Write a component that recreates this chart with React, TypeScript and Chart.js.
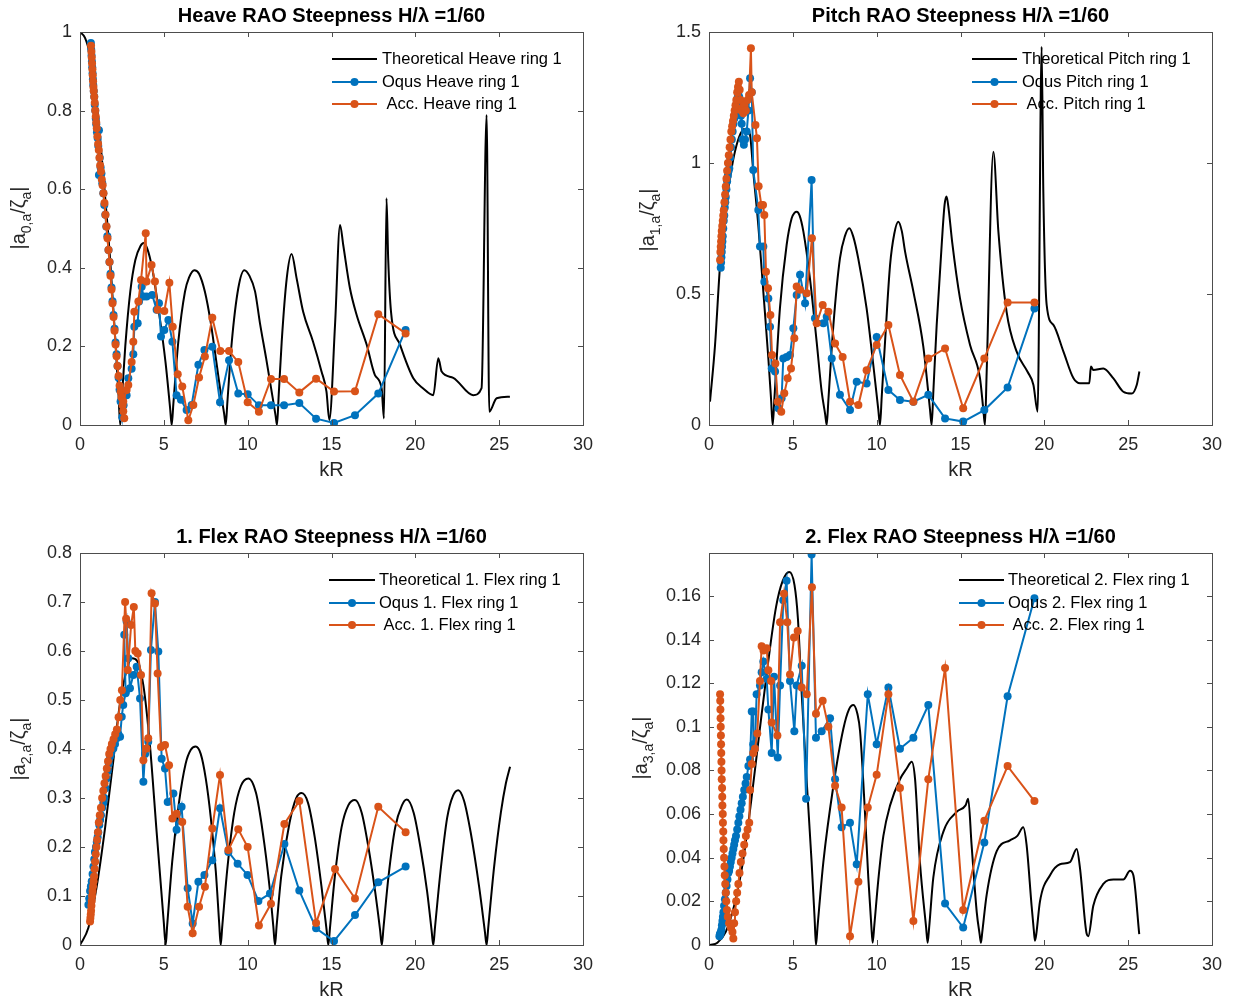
import React, { useEffect, useRef } from "react";
import { Chart, registerables } from "chart.js";

Chart.register(...registerables);

const FONT = "'Liberation Sans', Arial, Helvetica, sans-serif";
const BLUE = "#0072BD";
const ORANGE = "#D95319";
const AXIS_COLOR = "#4d4d4d";
const TEXT_COLOR = "#262626";

type Pair = [number, number];

// ---------- Heave ----------
const heaveTheory: Pair[] = [[0,1],[0.3,0.985],[0.6,0.94],[0.9,0.85],[1.2,0.73],[1.5,0.58],[1.8,0.42],[2.1,0.22],[2.3,0.075],[2.4,0],[2.5,0.07],[2.7,0.2],[3.0,0.34],[3.3,0.42],[3.6,0.455],[3.8,0.463],[4.0,0.45],[4.3,0.4],[4.7,0.29],[5.1,0.16],[5.37,0.045],[5.47,0],[5.57,0.055],[5.86,0.21],[6.26,0.339],[6.5,0.375],[6.82,0.394],[7.1,0.385],[7.45,0.339],[7.8,0.26],[8.05,0.186],[8.4,0.08],[8.6,0.028],[8.69,0],[8.79,0.058],[9.05,0.21],[9.44,0.348],[9.8,0.394],[10.1,0.38],[10.44,0.34],[10.73,0.26],[11.1,0.17],[11.45,0.08],[11.66,0.025],[11.75,0],[11.85,0.075],[12.03,0.212],[12.33,0.373],[12.62,0.435],[12.92,0.373],[13.31,0.288],[13.9,0.212],[14.4,0.137],[14.7,0.085],[14.87,0.013],[15.21,0.254],[15.51,0.509],[15.7,0.458],[16.1,0.348],[16.5,0.28],[17.1,0.204],[17.59,0.127],[17.99,0.093],[18.13,0.017],[18.28,0.577],[18.38,0.424],[18.55,0.288],[19.09,0.204],[19.88,0.119],[20.47,0.093],[21.07,0.076],[21.37,0.17],[21.57,0.136],[22.26,0.12],[23.45,0.076],[23.95,0.094],[24.25,0.789],[24.41,0.034],[24.85,0.068],[25.64,0.072]];
const heaveOqus: Pair[] = [[0.65,0.972],[0.67,0.955],[0.69,0.94],[0.71,0.925],[0.73,0.91],[0.75,0.895],[0.77,0.88],[0.79,0.865],[0.82,0.85],[0.85,0.835],[0.88,0.815],[0.91,0.8],[0.94,0.78],[0.97,0.765],[1.01,0.745],[1.05,0.73],[1.09,0.71],[1.13,0.75],[1.13,0.636],[1.18,0.68],[1.23,0.655],[1.28,0.64],[1.33,0.615],[1.39,0.59],[1.45,0.56],[1.51,0.535],[1.57,0.505],[1.63,0.48],[1.7,0.445],[1.76,0.415],[1.82,0.385],[1.88,0.35],[1.94,0.315],[2.0,0.28],[2.06,0.245],[2.12,0.21],[2.18,0.18],[2.24,0.15],[2.3,0.12],[2.36,0.09],[2.42,0.06],[2.52,0.02],[2.6,0.05],[2.78,0.076],[2.88,0.119],[3.08,0.143],[3.18,0.18],[3.24,0.25],[3.44,0.259],[3.52,0.314],[3.68,0.352],[3.78,0.327],[3.97,0.327],[4.31,0.331],[4.57,0.293],[4.71,0.31],[4.83,0.225],[5.03,0.242],[5.27,0.267],[5.51,0.212],[5.76,0.076],[6.02,0.064],[6.36,0.038],[6.66,0.051],[7.06,0.153],[7.42,0.191],[7.89,0.199],[8.35,0.058],[8.89,0.165],[9.44,0.08],[10.0,0.078],[10.67,0.05],[11.39,0.05],[12.17,0.05],[13.08,0.056],[14.08,0.016],[15.15,0.005],[16.4,0.025],[17.79,0.08],[19.42,0.242]];
const heaveAcc: Pair[] = [[0.66,0.965],[0.68,0.95],[0.7,0.935],[0.72,0.92],[0.74,0.905],[0.76,0.89],[0.78,0.875],[0.8,0.86],[0.82,0.85],[0.85,0.835],[0.88,0.82],[0.91,0.8],[0.94,0.785],[0.97,0.77],[1.0,0.755],[1.04,0.735],[1.08,0.715],[1.12,0.7],[1.16,0.68],[1.2,0.66],[1.25,0.645],[1.3,0.625],[1.35,0.61],[1.4,0.59],[1.46,0.565],[1.52,0.535],[1.58,0.505],[1.64,0.475],[1.7,0.445],[1.76,0.415],[1.82,0.38],[1.88,0.345],[1.94,0.31],[2.0,0.275],[2.06,0.24],[2.12,0.205],[2.18,0.175],[2.24,0.15],[2.3,0.125],[2.36,0.1],[2.42,0.085],[2.48,0.07],[2.54,0.05],[2.58,0.035],[2.64,0.017],[2.58,0.06],[2.78,0.089],[2.88,0.102],[3.08,0.16],[3.18,0.212],[3.24,0.288],[3.48,0.314],[3.64,0.369],[3.92,0.488],[3.97,0.365],[4.27,0.407],[4.47,0.365],[4.63,0.293],[5.03,0.29],[5.33,0.362],[5.53,0.25],[5.83,0.129],[6.1,0.098],[6.46,0.012],[6.76,0.051],[7.1,0.121],[7.45,0.174],[7.89,0.273],[8.37,0.188],[8.89,0.188],[9.44,0.16],[10.0,0.058],[10.67,0.034],[11.39,0.117],[12.17,0.117],[13.08,0.083],[14.08,0.118],[15.15,0.085],[16.4,0.086],[17.79,0.282],[19.42,0.233]];

// ---------- Pitch ----------
const pitchTheory: Pair[] = [[0.06,0.089],[0.36,0.305],[0.66,0.611],[0.9,0.78],[1.2,0.92],[1.5,1.03],[1.8,1.1],[2.1,1.13],[2.3,1.125],[2.45,1.107],[2.64,0.967],[2.94,0.763],[3.24,0.509],[3.54,0.254],[3.7,0.1],[3.8,0],[3.9,0.1],[4.23,0.445],[4.63,0.687],[4.93,0.789],[5.1,0.81],[5.23,0.814],[5.4,0.8],[5.63,0.738],[6.02,0.56],[6.42,0.318],[6.72,0.127],[6.93,0.04],[7.02,0],[7.12,0.095],[7.42,0.382],[7.81,0.636],[8.1,0.72],[8.37,0.751],[8.6,0.72],[8.9,0.636],[9.4,0.445],[9.8,0.229],[10.1,0.057],[10.2,0],[10.3,0.106],[10.5,0.318],[10.8,0.611],[11.05,0.73],[11.29,0.776],[11.5,0.74],[11.7,0.66],[12.19,0.509],[12.78,0.3],[13.18,0.06],[13.28,0],[13.38,0.127],[13.58,0.382],[13.88,0.69],[14.05,0.84],[14.17,0.872],[14.3,0.82],[14.5,0.7],[14.97,0.483],[15.57,0.305],[16.16,0.18],[16.36,0.06],[16.46,0],[16.56,0.2],[16.96,1.043],[17.26,0.738],[17.75,0.432],[18.35,0.28],[18.99,0.204],[19.35,0.153],[19.6,0.051],[19.84,1.444],[19.94,0.89],[20.14,0.458],[20.54,0.382],[21.14,0.28],[21.74,0.178],[22.13,0.159],[22.68,0.159],[22.78,0.223],[22.92,0.21],[23.52,0.216],[24.12,0.178],[24.71,0.127],[25.21,0.12],[25.51,0.153],[25.67,0.204]];
const pitchOqus: Pair[] = [[0.7,0.6],[0.72,0.62],[0.74,0.64],[0.76,0.66],[0.78,0.68],[0.8,0.7],[0.82,0.72],[0.85,0.75],[0.88,0.78],[0.91,0.8],[0.94,0.83],[0.97,0.85],[1.0,0.87],[1.04,0.9],[1.08,0.93],[1.12,0.95],[1.17,0.97],[1.21,0.98],[1.26,1.02],[1.31,1.06],[1.36,1.09],[1.41,1.12],[1.46,1.15],[1.51,1.17],[1.56,1.19],[1.61,1.21],[1.66,1.23],[1.71,1.25],[1.76,1.26],[1.81,1.25],[1.86,1.22],[1.91,1.18],[1.95,1.15],[2.0,1.09],[2.08,1.07],[2.15,1.09],[2.25,1.12],[2.35,1.2],[2.45,1.323],[2.55,1.27],[2.64,0.973],[2.94,0.821],[3.04,0.681],[3.24,0.681],[3.3,0.547],[3.54,0.483],[3.64,0.375],[3.74,0.216],[3.94,0.204],[4.14,0.064],[4.33,0.102],[4.43,0.254],[4.63,0.26],[4.83,0.267],[5.03,0.369],[5.23,0.496],[5.43,0.573],[5.73,0.465],[6.12,0.935],[6.32,0.407],[6.82,0.388],[7.02,0.413],[7.32,0.254],[7.81,0.115],[8.41,0.057],[8.81,0.165],[9.4,0.158],[10.0,0.336],[10.7,0.134],[11.39,0.095],[12.19,0.089],[13.08,0.115],[14.08,0.025],[15.16,0.013],[16.42,0.057],[17.81,0.143],[19.41,0.445]];
const pitchAcc: Pair[] = [[0.66,0.63],[0.68,0.66],[0.7,0.68],[0.72,0.7],[0.74,0.72],[0.76,0.74],[0.79,0.76],[0.82,0.78],[0.85,0.8],[0.88,0.82],[0.92,0.85],[0.96,0.88],[1.0,0.91],[1.04,0.94],[1.08,0.97],[1.13,1.0],[1.18,1.03],[1.23,1.06],[1.28,1.09],[1.33,1.12],[1.38,1.14],[1.43,1.16],[1.48,1.18],[1.53,1.2],[1.58,1.22],[1.63,1.24],[1.68,1.27],[1.73,1.29],[1.78,1.31],[1.83,1.28],[1.88,1.24],[1.93,1.2],[1.98,1.21],[2.05,1.19],[2.12,1.22],[2.2,1.2],[2.3,1.24],[2.39,1.26],[2.5,1.438],[2.55,1.27],[2.77,1.145],[2.86,1.094],[2.96,0.911],[3.12,0.84],[3.22,0.84],[3.3,0.802],[3.4,0.585],[3.52,0.522],[3.66,0.42],[3.76,0.267],[3.96,0.235],[4.1,0.089],[4.31,0.051],[4.49,0.121],[4.69,0.178],[4.89,0.216],[5.09,0.331],[5.23,0.529],[5.43,0.516],[5.83,0.503],[6.14,0.713],[6.42,0.388],[6.78,0.458],[7.12,0.432],[7.52,0.311],[7.97,0.26],[8.41,0.089],[8.91,0.076],[9.4,0.209],[10.0,0.305],[10.7,0.382],[11.39,0.191],[12.19,0.089],[13.08,0.254],[14.08,0.292],[15.16,0.064],[16.42,0.254],[17.81,0.468],[19.41,0.468]];

// ---------- 1. Flex ----------
const flex1Theory: Pair[] = [[0,0],[0.5,0.035],[1.0,0.12],[1.5,0.24],[2.0,0.38],[2.29,0.47],[2.7,0.55],[3.1,0.585],[3.4,0.58],[3.78,0.53],[4.17,0.408],[4.57,0.231],[4.85,0.11],[5.0,0.045],[5.11,0],[5.2,0.04],[5.5,0.17],[5.9,0.29],[6.3,0.37],[6.6,0.398],[6.9,0.405],[7.2,0.39],[7.5,0.34],[7.8,0.26],[8.1,0.15],[8.3,0.045],[8.39,0],[8.48,0.036],[8.8,0.16],[9.2,0.27],[9.6,0.325],[10.04,0.34],[10.5,0.31],[10.9,0.23],[11.3,0.12],[11.53,0.038],[11.63,0],[11.73,0.04],[12.0,0.14],[12.5,0.25],[12.9,0.3],[13.22,0.31],[13.6,0.29],[14.0,0.22],[14.4,0.12],[14.71,0.03],[14.81,0],[14.91,0.035],[15.2,0.14],[15.6,0.24],[16.0,0.285],[16.4,0.296],[16.8,0.27],[17.2,0.2],[17.6,0.11],[17.9,0.03],[18.0,0],[18.1,0.035],[18.4,0.14],[18.8,0.24],[19.2,0.285],[19.49,0.297],[19.9,0.27],[20.3,0.2],[20.7,0.11],[20.97,0.03],[21.07,0],[21.17,0.035],[21.5,0.15],[21.9,0.26],[22.25,0.305],[22.56,0.316],[22.9,0.295],[23.3,0.23],[23.8,0.12],[24.15,0.027],[24.25,0],[24.35,0.036],[24.7,0.16],[25.1,0.27],[25.4,0.33],[25.65,0.364]];
const flex1Oqus: Pair[] = [[0.5,0.082],[0.55,0.095],[0.6,0.11],[0.65,0.12],[0.7,0.13],[0.75,0.145],[0.8,0.16],[0.85,0.175],[0.89,0.19],[0.95,0.2],[1.0,0.21],[1.05,0.22],[1.09,0.23],[1.15,0.245],[1.2,0.255],[1.25,0.265],[1.32,0.28],[1.39,0.29],[1.45,0.3],[1.52,0.32],[1.59,0.34],[1.66,0.355],[1.72,0.37],[1.79,0.384],[1.85,0.39],[1.92,0.4],[1.99,0.401],[2.09,0.41],[2.19,0.422],[2.29,0.43],[2.39,0.425],[2.49,0.466],[2.58,0.49],[2.72,0.514],[2.64,0.633],[2.78,0.66],[2.88,0.585],[2.98,0.524],[3.18,0.551],[3.38,0.568],[3.58,0.503],[3.78,0.333],[3.88,0.39],[4.07,0.415],[4.23,0.602],[4.47,0.7],[4.67,0.599],[4.87,0.38],[5.07,0.36],[5.23,0.292],[5.57,0.309],[5.76,0.235],[6.06,0.282],[6.42,0.116],[6.72,0.044],[7.06,0.129],[7.42,0.143],[7.89,0.173],[8.35,0.279],[8.85,0.19],[9.4,0.166],[9.99,0.143],[10.64,0.09],[11.33,0.105],[12.19,0.206],[13.08,0.111],[14.08,0.034],[15.15,0.008],[16.4,0.061],[17.79,0.128],[19.42,0.16]];
const flex1Acc: Pair[] = [[0.6,0.048],[0.62,0.055],[0.64,0.062],[0.66,0.07],[0.68,0.08],[0.7,0.09],[0.72,0.1],[0.75,0.11],[0.78,0.12],[0.81,0.13],[0.84,0.14],[0.87,0.155],[0.9,0.17],[0.94,0.185],[0.98,0.2],[1.02,0.215],[1.07,0.23],[1.12,0.25],[1.18,0.265],[1.25,0.28],[1.32,0.3],[1.39,0.315],[1.46,0.33],[1.53,0.345],[1.6,0.36],[1.67,0.375],[1.74,0.39],[1.82,0.4],[1.9,0.41],[2.0,0.42],[2.1,0.43],[2.2,0.44],[2.3,0.465],[2.4,0.5],[2.5,0.52],[2.69,0.7],[2.75,0.666],[2.85,0.561],[3.05,0.653],[3.21,0.69],[3.3,0.6],[3.44,0.595],[3.64,0.551],[3.78,0.377],[3.97,0.401],[4.07,0.422],[4.27,0.718],[4.47,0.697],[4.63,0.554],[4.83,0.404],[5.07,0.408],[5.31,0.367],[5.51,0.258],[5.76,0.268],[6.1,0.251],[6.42,0.078],[6.72,0.024],[7.1,0.078],[7.45,0.119],[7.89,0.238],[8.35,0.347],[8.85,0.194],[9.44,0.236],[10.0,0.2],[10.67,0.04],[11.39,0.084],[12.19,0.247],[13.08,0.294],[14.08,0.045],[15.21,0.155],[16.4,0.095],[17.79,0.282],[19.42,0.23]];

// ---------- 2. Flex ----------
const flex2Theory: Pair[] = [[0.06,0],[0.5,0.001],[1.0,0.006],[1.5,0.018],[2.0,0.037],[2.5,0.065],[3.0,0.097],[3.5,0.128],[4.0,0.155],[4.4,0.167],[4.79,0.171],[5.1,0.165],[5.3,0.15],[5.53,0.115],[5.82,0.076],[6.12,0.038],[6.3,0.012],[6.38,0],[6.48,0.009],[6.82,0.038],[7.42,0.073],[8.01,0.099],[8.35,0.108],[8.61,0.11],[8.85,0.106],[9.01,0.098],[9.3,0.061],[9.5,0.031],[9.68,0.009],[9.76,0.001],[9.86,0.009],[10.1,0.03],[10.4,0.05],[10.8,0.064],[11.39,0.076],[11.8,0.081],[12.09,0.084],[12.29,0.076],[12.58,0.038],[12.95,0.008],[13.04,0.001],[13.13,0.008],[13.38,0.031],[13.98,0.052],[14.77,0.061],[15.3,0.064],[15.46,0.067],[15.66,0.046],[15.97,0.015],[16.14,0.005],[16.22,0.001],[16.3,0.006],[16.56,0.023],[17.16,0.043],[17.95,0.048],[18.39,0.05],[18.74,0.054],[18.94,0.046],[19.24,0.018],[19.37,0.007],[19.44,0.002],[19.52,0.005],[19.74,0.02],[20.34,0.032],[20.93,0.037],[21.53,0.038],[21.93,0.044],[22.13,0.035],[22.45,0.009],[22.53,0.005],[22.62,0.004],[22.92,0.018],[23.52,0.028],[24.12,0.03],[24.71,0.03],[25.11,0.034],[25.31,0.032],[25.66,0.005]];
const flex2Oqus: Pair[] = [[0.62,0.004],[0.65,0.005],[0.68,0.005],[0.71,0.006],[0.74,0.007],[0.77,0.009],[0.8,0.011],[0.83,0.013],[0.86,0.015],[0.9,0.018],[0.95,0.021],[1.0,0.024],[1.05,0.027],[1.1,0.03],[1.15,0.033],[1.2,0.034],[1.25,0.036],[1.3,0.038],[1.35,0.04],[1.4,0.042],[1.45,0.044],[1.5,0.046],[1.55,0.048],[1.61,0.05],[1.68,0.053],[1.75,0.056],[1.81,0.059],[1.88,0.062],[1.95,0.065],[2.02,0.068],[2.1,0.071],[2.18,0.074],[2.25,0.077],[2.35,0.082],[2.45,0.085],[2.55,0.107],[2.64,0.107],[2.64,0.092],[2.74,0.09],[2.84,0.115],[3.04,0.119],[3.14,0.125],[3.24,0.13],[3.44,0.122],[3.54,0.108],[3.74,0.088],[3.88,0.123],[4.1,0.086],[4.24,0.119],[4.43,0.158],[4.63,0.167],[4.83,0.121],[5.09,0.098],[5.23,0.119],[5.53,0.128],[5.79,0.067],[6.12,0.179],[6.38,0.095],[6.72,0.098],[7.22,0.104],[7.52,0.076],[7.91,0.054],[8.41,0.056],[8.81,0.037],[9.47,0.115],[10.0,0.092],[10.7,0.118],[11.39,0.09],[12.19,0.095],[13.08,0.11],[14.08,0.019],[15.16,0.008],[16.42,0.047],[17.81,0.114],[19.41,0.159]];
const flex2Acc: Pair[] = [[0.66,0.115],[0.67,0.112],[0.68,0.108],[0.69,0.104],[0.7,0.1],[0.71,0.096],[0.72,0.092],[0.73,0.088],[0.74,0.084],[0.75,0.08],[0.76,0.076],[0.78,0.072],[0.79,0.068],[0.8,0.064],[0.82,0.06],[0.83,0.056],[0.85,0.052],[0.86,0.048],[0.88,0.044],[0.9,0.04],[0.92,0.036],[0.94,0.032],[0.97,0.028],[1.0,0.024],[1.03,0.02],[1.07,0.016],[1.12,0.013],[1.2,0.01],[1.3,0.008],[1.4,0.006],[1.45,0.003],[1.5,0.01],[1.55,0.015],[1.62,0.02],[1.68,0.024],[1.75,0.028],[1.82,0.033],[1.9,0.038],[2.0,0.042],[2.1,0.046],[2.2,0.05],[2.3,0.053],[2.4,0.056],[2.45,0.071],[2.55,0.083],[2.64,0.088],[2.74,0.09],[2.88,0.097],[3.04,0.121],[3.14,0.137],[3.25,0.135],[3.44,0.136],[3.54,0.126],[3.7,0.121],[3.74,0.102],[4.08,0.096],[4.24,0.148],[4.47,0.161],[4.67,0.148],[4.83,0.124],[5.07,0.141],[5.29,0.144],[5.53,0.118],[5.83,0.115],[6.14,0.164],[6.38,0.106],[6.78,0.112],[7.12,0.1],[7.52,0.073],[7.91,0.063],[8.41,0.004],[8.91,0.029],[9.47,0.063],[10.0,0.078],[10.7,0.115],[11.39,0.072],[12.19,0.011],[13.08,0.076],[14.08,0.127],[15.16,0.016],[16.42,0.057],[17.81,0.082],[19.41,0.066]];

// ---------- Text ----------
const titles = [
  "Heave RAO Steepness H/\u03bb =1/60",
  "Pitch RAO Steepness H/\u03bb =1/60",
  "1. Flex RAO Steepness H/\u03bb =1/60",
  "2. Flex RAO Steepness H/\u03bb =1/60",
];
const legendHeave = ["Theoretical Heave ring 1", "Oqus Heave ring 1", " Acc. Heave ring 1"];
const legendPitch = ["Theoretical Pitch ring 1", "Oqus Pitch ring 1", " Acc. Pitch ring 1"];
const legendFlex1 = ["Theoretical 1. Flex ring 1", "Oqus 1. Flex ring 1", " Acc. 1. Flex ring 1"];
const legendFlex2 = ["Theoretical 2. Flex ring 1", "Oqus 2. Flex ring 1", " Acc. 2. Flex ring 1"];
const ySubscripts = ["0,a", "1,a", "2,a", "3,a"];
const yMaxes = [1, 1.5, 0.8, 0.1797];
const ySteps = [0.2, 0.5, 0.1, 0.02];

interface PanelDef {
  x: number; y: number; w: number; h: number;
  area: { l: number; t: number; r: number; b: number };
  yMax: number; yStep: number;
  title: string; titleY: number;
  sub: string; yLabelX: number; yLabelY: number;
  xLabelY: number;
  legend: { x1: number; x2: number; tx: number; ys: number[] };
  labels: string[];
  theory: Pair[]; oqus: Pair[]; acc: Pair[];
}

const panels: PanelDef[] = [
  {
    x: 0, y: 0, w: 618, h: 500, area: { l: 80, t: 32, r: 583, b: 425 },
    yMax: yMaxes[0], yStep: ySteps[0], title: titles[0], titleY: 16,
    sub: ySubscripts[0], yLabelX: 25, yLabelY: 218, xLabelY: 470,
    legend: { x1: 332, x2: 377, tx: 382, ys: [59, 82, 104] }, labels: legendHeave,
    theory: heaveTheory, oqus: heaveOqus, acc: heaveAcc,
  },
  {
    x: 618, y: 0, w: 619, h: 500, area: { l: 91, t: 32, r: 594, b: 425 },
    yMax: yMaxes[1], yStep: ySteps[1], title: titles[1], titleY: 16,
    sub: ySubscripts[1], yLabelX: 36, yLabelY: 220, xLabelY: 470,
    legend: { x1: 354, x2: 399, tx: 404, ys: [59, 82, 104] }, labels: legendPitch,
    theory: pitchTheory, oqus: pitchOqus, acc: pitchAcc,
  },
  {
    x: 0, y: 500, w: 618, h: 505, area: { l: 80, t: 53, r: 583, b: 445 },
    yMax: yMaxes[2], yStep: ySteps[2], title: titles[2], titleY: 37,
    sub: ySubscripts[2], yLabelX: 25, yLabelY: 249, xLabelY: 490,
    legend: { x1: 329, x2: 375, tx: 379, ys: [80, 103, 125] }, labels: legendFlex1,
    theory: flex1Theory, oqus: flex1Oqus, acc: flex1Acc,
  },
  {
    x: 618, y: 500, w: 619, h: 505, area: { l: 91, t: 53, r: 594, b: 445 },
    yMax: yMaxes[3], yStep: ySteps[3], title: titles[3], titleY: 37,
    sub: ySubscripts[3], yLabelX: 29, yLabelY: 248, xLabelY: 490,
    legend: { x1: 341, x2: 386, tx: 390, ys: [80, 103, 125] }, labels: legendFlex2,
    theory: flex2Theory, oqus: flex2Oqus, acc: flex2Acc,
  },
];

const toXY = (pairs: Pair[]) => pairs.map(([x, y]) => ({ x, y }));
const fmt = (v: any) => String(Number(Number(v).toFixed(3)));

function drawYLabel(ctx: CanvasRenderingContext2D, x: number, y: number, sub: string) {
  const main = `20px ${FONT}`;
  const small = `14px ${FONT}`;
  const parts: [string, boolean][] = [["|a", false], [sub, true], ["/\u03b6", false], ["a", true], ["|", false]];
  ctx.save();
  ctx.translate(x, y);
  ctx.rotate(-Math.PI / 2);
  let total = 0;
  for (const [t, s] of parts) { ctx.font = s ? small : main; total += ctx.measureText(t).width; }
  let cx = -total / 2;
  ctx.textAlign = "left";
  ctx.textBaseline = "alphabetic";
  ctx.fillStyle = TEXT_COLOR;
  for (const [t, s] of parts) {
    ctx.font = s ? small : main;
    ctx.fillText(t, cx, s ? 6 : 0);
    cx += ctx.measureText(t).width;
  }
  ctx.restore();
}

function decorPlugin(p: PanelDef) {
  return {
    id: "decor",
    afterDatasetsDraw(chart: any) {
      const ctx: CanvasRenderingContext2D = chart.ctx;
      const { left, right, top, bottom } = chart.chartArea;
      const xs = chart.scales.x;
      const ys = chart.scales.y;
      ctx.save();
      ctx.strokeStyle = AXIS_COLOR;
      ctx.lineWidth = 1;
      ctx.strokeRect(left + 0.5, top + 0.5, right - left, bottom - top);
      ctx.beginPath();
      xs.ticks.forEach((t: any) => {
        const px = Math.round(xs.getPixelForValue(t.value)) + 0.5;
        ctx.moveTo(px, bottom); ctx.lineTo(px, bottom - 5);
        ctx.moveTo(px, top); ctx.lineTo(px, top + 5);
      });
      ys.ticks.forEach((t: any) => {
        const py = Math.round(ys.getPixelForValue(t.value)) + 0.5;
        ctx.moveTo(left, py); ctx.lineTo(left + 5, py);
        ctx.moveTo(right, py); ctx.lineTo(right - 5, py);
      });
      ctx.stroke();
      const colors = ["#000000", BLUE, ORANGE];
      p.labels.forEach((lab, i) => {
        const y = p.legend.ys[i];
        ctx.strokeStyle = colors[i];
        ctx.lineWidth = 2;
        ctx.beginPath();
        ctx.moveTo(p.legend.x1, y);
        ctx.lineTo(p.legend.x2, y);
        ctx.stroke();
        if (i > 0) {
          ctx.fillStyle = colors[i];
          ctx.beginPath();
          ctx.arc((p.legend.x1 + p.legend.x2) / 2, y, 4, 0, Math.PI * 2);
          ctx.fill();
        }
        ctx.fillStyle = "#000";
        ctx.font = `16.5px ${FONT}`;
        ctx.textAlign = "left";
        ctx.textBaseline = "middle";
        ctx.fillText(lab, p.legend.tx, y);
      });
      ctx.fillStyle = "#000";
      ctx.font = `bold 20px ${FONT}`;
      ctx.textAlign = "center";
      ctx.textBaseline = "middle";
      ctx.fillText(p.title, (left + right) / 2, p.titleY);
      ctx.fillStyle = TEXT_COLOR;
      ctx.font = `20px ${FONT}`;
      ctx.fillText("kR", (left + right) / 2, p.xLabelY);
      ctx.restore();
      drawYLabel(ctx, p.yLabelX, p.yLabelY, p.sub);
    },
  };
}

function makeConfig(p: PanelDef): any {
  const tickFont = { family: FONT, size: 18 };
  return {
    type: "line",
    data: {
      datasets: [
        {
          label: p.labels[0], data: toXY(p.theory), borderColor: "#000000", backgroundColor: "#000000",
          borderWidth: 2, pointRadius: 0, fill: false, cubicInterpolationMode: "monotone", order: 3,
        },
        {
          label: p.labels[1], data: toXY(p.oqus), borderColor: BLUE, backgroundColor: BLUE,
          pointBackgroundColor: BLUE, pointBorderColor: BLUE, pointBorderWidth: 0, pointRadius: 4,
          borderWidth: 2, fill: false, tension: 0, order: 2,
        },
        {
          label: p.labels[2], data: toXY(p.acc), borderColor: ORANGE, backgroundColor: ORANGE,
          pointBackgroundColor: ORANGE, pointBorderColor: ORANGE, pointBorderWidth: 0, pointRadius: 4,
          borderWidth: 2, fill: false, tension: 0, order: 1,
        },
      ],
    },
    options: {
      responsive: false,
      maintainAspectRatio: false,
      animation: false,
      devicePixelRatio: 1,
      events: [],
      layout: { padding: { left: 0, top: p.area.t, right: p.w - p.area.r, bottom: 0 } },
      plugins: { legend: { display: false }, tooltip: { enabled: false }, title: { display: false } },
      scales: {
        x: {
          type: "linear", min: 0, max: 30,
          afterFit: (s: any) => { s.height = p.h - p.area.b; },
          grid: { display: false, drawTicks: false },
          border: { display: false },
          ticks: {
            stepSize: 5, autoSkip: false, maxRotation: 0, padding: 9,
            color: TEXT_COLOR, font: tickFont, callback: fmt,
          },
        },
        y: {
          type: "linear", min: 0, max: p.yMax,
          afterFit: (s: any) => { s.width = p.area.l; },
          grid: { display: false, drawTicks: false },
          border: { display: false },
          ticks: {
            stepSize: p.yStep, includeBounds: false, autoSkip: false, padding: 8,
            color: TEXT_COLOR, font: tickFont, callback: fmt,
          },
        },
      },
    },
    plugins: [decorPlugin(p)],
  };
}

function Panel({ p }: { p: PanelDef }) {
  const ref = useRef<HTMLCanvasElement | null>(null);
  useEffect(() => {
    if (!ref.current) return;
    const chart = new Chart(ref.current, makeConfig(p));
    return () => chart.destroy();
  }, [p]);
  return (
    <canvas
      ref={ref}
      width={p.w}
      height={p.h}
      style={{ position: "absolute", left: p.x, top: p.y, width: p.w, height: p.h, display: "block" }}
    />
  );
}

export default function App() {
  return (
    <div style={{ position: "absolute", left: 0, top: 0, width: 1237, height: 1005, background: "#ffffff" }}>
      {panels.map((p, i) => (
        <Panel key={i} p={p} />
      ))}
    </div>
  );
}
